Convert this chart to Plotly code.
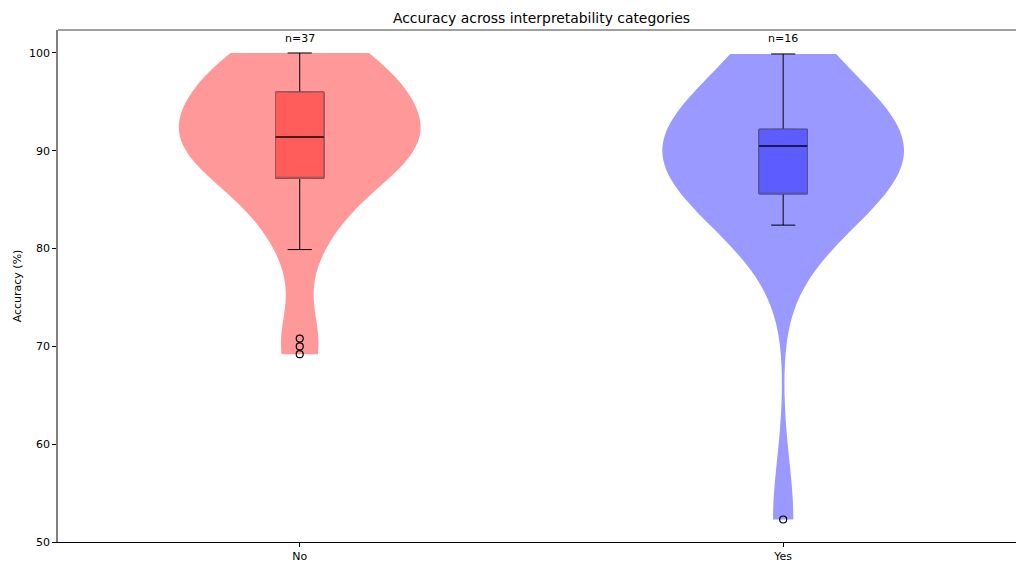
import numpy as np
import plotly.graph_objects as go

# Accuracy (%) per model, grouped by whether the model is interpretable
categories = ["No", "Yes"]
acc_no = [69.2, 70.0, 70.8, 79.9, 81.0, 83.5, 85.0, 86.3, 87.2, 87.2,
          88.0, 88.7, 89.3, 89.8, 90.2, 90.6, 91.0, 91.2, 91.4, 91.6,
          92.0, 92.5, 93.0, 93.6, 94.2, 94.8, 95.4, 96.0, 96.5, 97.0,
          97.6, 98.2, 98.8, 99.3, 99.7, 100.0, 100.0]
acc_yes = [52.3, 82.4, 84.0, 85.6, 85.6, 87.5, 89.0, 90.3, 90.7, 91.0,
           91.6, 92.2, 92.2, 94.5, 96.5, 99.9]
y_ticks = [50, 60, 70, 80, 90, 100]

groups = [acc_no, acc_yes]
violin_colors = ["#ff9999", "#9999ff"]
box_colors = ["#ff5c5c", "#5c5cff"]
box_edges = ["#a25555", "#5959a8"]
median_colors = ["#4a1c1c", "#1c1c4a"]

VIOLIN_WIDTH = 0.5
BOX_WIDTH = 0.1
FONT = "DejaVu Sans"

fig = go.Figure()

for pos, (vals, vcol, bcol, ecol, mcol) in enumerate(
        zip(groups, violin_colors, box_colors, box_edges, median_colors)):
    arr = np.asarray(vals, dtype=float)
    # Scott's rule bandwidth for the Gaussian KDE
    bw = arr.std(ddof=1) * len(arr) ** (-1 / 5)
    q1, med, q3 = np.percentile(arr, [25, 50, 75])

    fig.add_trace(go.Violin(
        x0=pos, y=arr, width=VIOLIN_WIDTH, scalemode="width",
        spanmode="hard", bandwidth=bw, points=False,
        fillcolor=vcol, line=dict(width=0, color=vcol), opacity=1,
        box=dict(visible=False), meanline=dict(visible=False),
        hoverinfo="skip", showlegend=False,
    ))
    # whiskers, caps and outliers
    fig.add_trace(go.Box(
        x0=pos, y=arr, width=BOX_WIDTH, whiskerwidth=0.5,
        quartilemethod="inclusive", boxpoints="outliers",
        fillcolor=bcol, line=dict(color="black", width=1),
        marker=dict(symbol="circle-open", color="black", size=7,
                    line=dict(width=1.2, color="black")),
        hoverinfo="skip", showlegend=False,
    ))
    # box body with a softer edge
    fig.add_trace(go.Box(
        x=[pos], q1=[q1], median=[q1], q3=[q3],
        lowerfence=[q1], upperfence=[q3], width=BOX_WIDTH,
        fillcolor=bcol, line=dict(color=ecol, width=1),
        hoverinfo="skip", showlegend=False,
    ))
    # median line
    fig.add_trace(go.Scatter(
        x=[pos - BOX_WIDTH / 2, pos + BOX_WIDTH / 2], y=[med, med],
        mode="lines", line=dict(color=mcol, width=2),
        hoverinfo="skip", showlegend=False,
    ))
    fig.add_annotation(
        x=pos, y=max(max(g) for g in groups), yshift=6,
        text=f"n={len(arr)}", showarrow=False, yanchor="bottom",
        font=dict(family=FONT, size=11, color="black"),
    )

# matplotlib-style spines: grey left/top, black bottom
fig.add_shape(type="line", xref="paper", yref="paper",
              x0=0, x1=1, y0=1, y1=1,
              line=dict(color="#808080", width=1.5))

fig.update_layout(
    width=1016, height=563,
    margin=dict(l=58, r=0, t=30, b=21),
    paper_bgcolor="white", plot_bgcolor="white",
    violinmode="overlay", boxmode="overlay",
    font=dict(family=FONT, size=11, color="black"),
    title=dict(text="Accuracy across interpretability categories",
               xref="paper", x=0.5047, xanchor="center",
               yref="container", y=1 - 18 / 563, yanchor="middle",
               font=dict(family=FONT, size=13.9, color="black")),
)
fig.update_xaxes(
    range=[-0.5, 1.4816], tickvals=[0, 1], ticktext=categories,
    showgrid=False, zeroline=False,
    showline=True, linecolor="black", linewidth=1,
    ticks="outside", ticklen=4, tickcolor="black",
    tickfont=dict(family=FONT, size=11, color="black"),
)
fig.update_yaxes(
    range=[50, 102.35], tickvals=y_ticks,
    showgrid=False, zeroline=False,
    showline=True, linecolor="#808080", linewidth=1.5,
    ticks="outside", ticklen=4, tickcolor="black",
    tickfont=dict(family=FONT, size=11, color="black"),
    title=dict(text="Accuracy (%)", standoff=5,
               font=dict(family=FONT, size=11, color="black")),
)

fig.write_html("out.html")
